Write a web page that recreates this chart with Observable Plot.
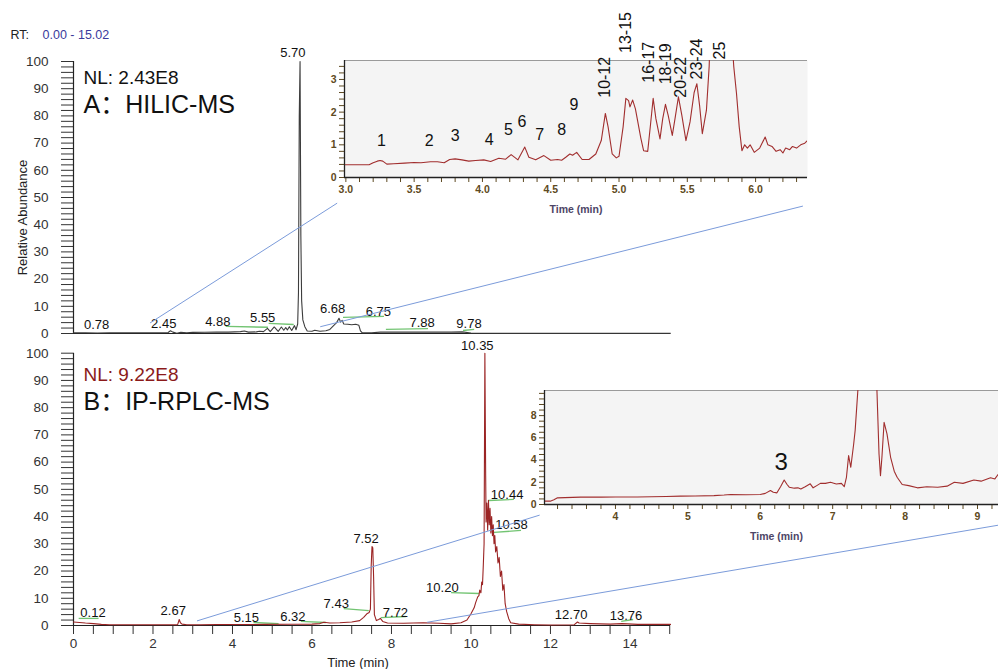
<!DOCTYPE html>
<html>
<head>
<meta charset="utf-8">
<script src="https://cdn.jsdelivr.net/npm/d3@7"></script>
<script src="https://cdn.jsdelivr.net/npm/@observablehq/plot@0.6"></script>
<style>
  html, body { margin: 0; padding: 0; background: #fff; }
  #chart { position: relative; width: 998px; height: 669px; overflow: hidden; background: #fff; }
  #chart svg { position: absolute; }
</style>
</head>
<body>
<div id="chart"></div>
<script>
// ---------- DATA ----------
const rtRange = [0.00, 15.02];
const nlA = "2.43E8";
const nlB = "9.22E8";
const titleA = "A：HILIC-MS";
const titleB = "B：IP-RPLC-MS";

// Panel A main chromatogram [time (min), relative abundance %]
const traceA = [
  [0,0.3],[0.3,0.3],[0.6,0.2],[0.9,0.3],[1.2,0.3],[1.5,0.25],[1.8,0.3],[2.1,0.3],[2.38,0.35],[2.44,1.0],
  [2.5,0.5],[2.6,0.1],[2.7,0.4],[2.85,0.3],[3.0,0.4],[3.3,0.45],[3.6,0.5],[3.9,0.5],[4.2,0.7],[4.3,0.9],
  [4.4,0.5],[4.6,0.6],[4.68,0.8],[4.78,0.7],[4.88,1.9],[4.95,0.7],[5.05,2.4],[5.15,0.8],[5.23,2.4],[5.29,1.2],
  [5.34,2.2],[5.38,1.3],[5.43,2.5],[5.49,1.1],[5.56,2.9],[5.6,1.4],[5.64,3.5],[5.66,15],[5.68,80],[5.70,100],
  [5.72,36],[5.74,12],[5.77,5],[5.82,2.5],[5.88,0.9],[6.0,0.8],[6.07,1.2],[6.2,0.8],[6.35,1.0],[6.45,1.5],
  [6.55,3.0],[6.62,4.0],[6.68,5.6],[6.72,4.2],[6.76,4.8],[6.8,3.5],[6.9,3.4],[7.0,3.2],[7.1,3.4],[7.18,3.0],
  [7.22,1.0],[7.26,0.3],[7.5,0.3],[7.72,0.5],[8.0,0.5],[8.5,0.5],[9.0,0.5],[9.5,0.5],[9.78,0.6],[10.0,0.2],
  [11,0.1],[12,0.1],[13,0.1],[14,0.1],[15.02,0.1]
];

// Panel B main chromatogram
const traceB = [
  [0,1.3],[0.15,1.1],[0.3,0.9],[0.5,0.7],[0.7,0.4],[0.9,0.3],[1.2,0.3],[1.6,0.25],[2.0,0.3],[2.4,0.3],
  [2.62,0.3],[2.66,2.2],[2.69,1.0],[2.73,0.5],[2.85,0.25],[3.2,0.3],[3.6,0.35],[4.2,0.35],[4.8,0.4],[5.4,0.45],
  [6.0,0.5],[6.2,0.7],[6.3,1.2],[6.45,0.9],[6.7,1.0],[7.0,1.3],[7.2,1.8],[7.3,3.0],[7.38,4.3],[7.44,4.8],
  [7.47,6],[7.49,22],[7.51,29],[7.53,28.5],[7.55,18],[7.57,4],[7.62,1.8],[7.68,2.2],[7.72,2.6],[7.78,1.5],
  [7.9,0.9],[8.3,0.8],[8.8,1.0],[9.2,0.8],[9.5,0.6],[9.75,1.0],[9.9,2.0],[10.0,4.3],[10.08,6.5],[10.12,8.5],
  [10.17,10.5],[10.2,11],[10.22,13],[10.25,12],[10.27,16],[10.29,15],[10.31,22],[10.33,30],[10.35,100],[10.37,55],
  [10.38,38],[10.40,45],[10.42,35],[10.44,46],[10.46,37],[10.48,43],[10.50,34],[10.52,40],[10.54,33],[10.56,37],
  [10.58,30],[10.60,33],[10.62,27],[10.65,29],[10.68,23],[10.71,25],[10.74,18],[10.77,20],[10.80,13],[10.83,15],
  [10.86,8],[10.9,5],[10.95,2.5],[11.0,1.0],[11.2,0.5],[11.6,0.3],[12.0,0.2],[12.6,0.3],[12.68,1.3],[12.72,0.9],
  [13.0,0.7],[13.5,0.5],[13.8,0.7],[14.2,0.4],[15.02,0.4]
];

// Inset A (zoom of HILIC trace, 3.0-6.4 min)
const insetTraceA = [
  [2.99,0.39],[3.1,0.39],[3.17,0.39],[3.2,0.45],[3.23,0.5],[3.25,0.52],[3.27,0.5],[3.3,0.41],[3.35,0.42],[3.43,0.44],
  [3.5,0.46],[3.55,0.45],[3.62,0.48],[3.67,0.48],[3.72,0.45],[3.76,0.55],[3.8,0.57],[3.85,0.54],[3.9,0.5],[3.95,0.52],
  [4.01,0.54],[4.06,0.49],[4.12,0.59],[4.17,0.56],[4.21,0.7],[4.26,0.54],[4.31,0.93],[4.34,0.62],[4.39,0.54],[4.45,0.67],
  [4.5,0.53],[4.55,0.55],[4.58,0.53],[4.61,0.62],[4.64,0.72],[4.66,0.68],[4.69,0.77],[4.73,0.55],[4.78,0.55],[4.83,0.72],
  [4.87,1.13],[4.9,1.96],[4.92,1.55],[4.95,0.72],[4.98,0.6],[5.0,0.65],[5.03,1.55],[5.05,2.42],[5.07,2.35],[5.08,2.16],
  [5.1,2.37],[5.12,2.1],[5.16,1.2],[5.18,0.82],[5.21,0.8],[5.23,1.6],[5.25,2.42],[5.27,1.8],[5.30,1.18],[5.32,1.8],
  [5.34,2.24],[5.36,1.9],[5.39,1.29],[5.41,1.8],[5.435,2.47],[5.46,1.9],[5.49,1.13],[5.52,1.7],[5.55,2.6],[5.57,2.87],
  [5.59,2.2],[5.61,1.34],[5.64,2.06],[5.66,3.4],[5.68,6],[5.70,100],[5.80,6],[5.84,3.4],[5.86,2.58],[5.88,1.55],
  [5.9,0.82],[5.92,1.0],[5.94,0.9],[5.96,1.0],[5.99,0.77],[6.03,0.9],[6.07,1.24],[6.09,1.0],[6.12,0.95],[6.15,0.8],
  [6.18,0.85],[6.2,0.75],[6.22,0.9],[6.25,0.85],[6.27,0.95],[6.3,0.9],[6.33,1.0],[6.36,1.05],[6.38,1.13]
];

// Inset B (zoom of IP-RPLC trace, 3.0-9.3 min)
const insetTraceB = [
  [3.02,0.3],[3.1,0.3],[3.15,0.42],[3.2,0.6],[3.3,0.62],[3.52,0.66],[3.8,0.66],[4.0,0.68],[4.3,0.67],[4.5,0.7],
  [4.7,0.72],[4.9,0.75],[5.1,0.76],[5.36,0.8],[5.5,0.85],[5.59,0.9],[5.8,0.88],[6.0,0.9],[6.07,1.0],[6.14,1.26],
  [6.18,1.1],[6.23,1.05],[6.28,1.6],[6.33,2.2],[6.37,1.8],[6.4,1.56],[6.47,1.47],[6.52,1.5],[6.56,1.4],[6.62,1.6],
  [6.69,1.86],[6.73,1.5],[6.78,1.7],[6.83,1.9],[6.9,1.9],[6.97,2.0],[7.05,1.85],[7.12,1.9],[7.16,1.6],[7.19,2.45],
  [7.22,4.4],[7.25,3.35],[7.29,5.45],[7.31,6.65],[7.35,10.5],[7.40,14],[7.5,29],[7.58,14],[7.61,10.5],[7.64,4.55],
  [7.66,2.6],[7.68,4.25],[7.71,7.4],[7.75,6.35],[7.8,4.25],[7.85,3.0],[7.89,2.45],[7.96,1.8],[8.05,1.7],[8.17,1.5],
  [8.3,1.6],[8.45,1.55],[8.58,1.65],[8.68,2.0],[8.8,1.9],[8.95,2.2],[9.05,2.1],[9.18,2.4],[9.24,2.3],[9.29,2.75]
];

// Peak retention-time labels: [text, label time, label abundance]
const peakLabelsA = [
  ["0.78",0.58,3.3],["2.45",2.27,3.7],["4.88",3.63,4.4],["5.55",4.76,5.9],["5.70",5.52,103.3],
  ["6.68",6.52,9.2],["6.75",7.67,8.1],["7.88",8.77,4.0],["9.78",9.95,3.5]
];
const peakLabelsB = [
  ["0.12",0.49,4.6],["2.67",2.51,5.3],["5.15",4.35,2.75],["6.32",5.52,3.1],["7.43",6.61,7.9],
  ["7.52",7.36,32],["7.72",8.1,4.8],["10.20",9.28,13.8],["10.35",10.16,102.8],["10.44",10.91,47.9],
  ["10.58",11.02,36.9],["12.70",12.52,3.9],["13.76",13.90,3.5]
];
// Green label leaders: [t1, v1, t2, v2]
const leadersA = [[3.83,2.6,4.89,2.3],[4.91,3.7,5.54,3.3],[6.78,5.9,7.81,6.3],[7.86,1.5,8.92,1.8],[9.80,1.1,10.08,1.5]];
const leadersB = [[0.13,2.6,0.63,2.6],[4.53,1.1,5.16,0.7],[5.72,1.5,6.35,1.1],[6.8,6.2,7.43,5.5],[7.73,2.9,8.36,3.3],
  [9.5,12.1,10.2,11.75],[10.45,45.9,11.08,46.3],[10.58,34.2,11.26,34.9],[13.78,1.5,14.08,2.2]];

// Inset peak numbering
const insetNumbersA = [["1",3.26,1.12],["2",3.61,1.12],["3",3.80,1.27],["4",4.05,1.15],["5",4.19,1.45],
  ["6",4.29,1.70],["7",4.42,1.30],["8",4.58,1.45],["9",4.67,2.22]];
const insetGroupsA = [["10-12",4.90,2.44],["13-15",5.05,3.81],["16-17",5.22,2.90],["18-19",5.34,2.85],
  ["20-22",5.45,2.44],["23-24",5.57,3.0],["25",5.74,3.61]];
const insetNumbersB = [["3",6.29,3.8]];

// Zoom connectors: [main time, main abundance, inset time, inset abundance]
const connectorsA = [[1.94,3.7,2.94,-0.8],[6.22,2.3,6.35,-0.89]];
const connectorsB = [[3.12,1.5,2.96,-1.0],[8.91,1.0,9.30,-1.9]];

// ---------- CHART ----------
const font = "'Liberation Sans', 'Noto Sans CJK SC', Arial, sans-serif";
const range = (a, b, step) => d3.range(Math.round(a / step), Math.round(b / step) + 1).map(k => +(k * step).toFixed(4));
const near = (v, step) => Math.abs(v / step - Math.round(v / step)) < 1e-6;
const container = document.getElementById("chart");
function place(el, left, top) {
  el.style.position = "absolute"; el.style.left = left + "px"; el.style.top = top + "px";
  el.style.background = "transparent"; el.style.overflow = "visible"; el.style.maxWidth = "none";
  container.appendChild(el); return el;
}
const label = (txt, opts) => Plot.text([txt], {text: d => d, textAnchor: "middle", lineAnchor: "middle", ...opts});

const posA = {left: 0, top: 0}, posB = {left: 0, top: 340};
const posIA = {left: 300, top: 0}, posIB = {left: 500, top: 370};

function mainPanel(trace, labels, leaders, lineColor, nl, nlColor, title, isB) {
  const marks = [
    Plot.ruleX([0], {y1: 0, y2: 100, stroke: "#222", strokeWidth: 1.2}),
    Plot.ruleY([0], {stroke: "#222", strokeWidth: 1.2}),
    Plot.link(leaders, {x1: d => d[0], y1: d => d[1], x2: d => d[2], y2: d => d[3], stroke: "#72c472", strokeWidth: 1.3}),
    Plot.line(trace, {x: d => d[0], y: d => d[1], stroke: lineColor, strokeWidth: 1.1}),
    Plot.text(labels, {x: d => d[1], y: d => d[2], text: d => d[0], fontSize: 13, fill: "#111"}),
    label(`NL: ${nl}`, {frameAnchor: "top-left", textAnchor: "start", dx: 10, dy: isB ? 22 : 16, fontSize: 19, fill: nlColor}),
    label(title, {frameAnchor: "top-left", textAnchor: "start", dx: 10, dy: isB ? 49 : 43, fontSize: 25, fill: "#111"})
  ];
  if (isB) {
    marks.push(label("Time (min)", {frameAnchor: "bottom", dx: -14, dy: 37, fontSize: 13, fill: "#222"}));
  } else {
    marks.push(
      label("Relative Abundance", {x: rtRange[0], y: 50, rotate: -90, dx: -51, dy: 20, fontSize: 13, fill: "#222"}),
      label("RT:", {frameAnchor: "top-left", textAnchor: "start", dx: -63, dy: -27, fontSize: 12.5, fill: "#222"}),
      label(`${rtRange[0].toFixed(2)} - ${rtRange[1].toFixed(2)}`, {frameAnchor: "top-left", textAnchor: "start", dx: -31, dy: -27, fontSize: 12.5, fill: "#3a3a9c"})
    );
  }
  return Plot.plot({
    width: 998, height: isB ? 329 : 340,
    marginLeft: 73, marginRight: 328,
    marginTop: isB ? 12.7 : 61, marginBottom: isB ? 44 : 7,
    style: {fontFamily: font, fontSize: "13.5px", color: "#333", background: "transparent", overflow: "visible"},
    x: isB
      ? {domain: rtRange, ticks: range(0, 15, 0.5), tickSize: 9, tickPadding: 4, tickFormat: d => near(d, 2) ? String(d) : "", label: null}
      : {domain: rtRange, axis: null},
    y: {domain: [0, 100], ticks: range(0, 100, 2), tickSize: 12, tickPadding: 13, tickFormat: d => near(d, 10) ? String(d) : "", label: null},
    marks
  });
}

const mainA = place(mainPanel(traceA, peakLabelsA, leadersA, "#3d3d3d", nlA, "#111", titleA, false), posA.left, posA.top);
const mainB = place(mainPanel(traceB, peakLabelsB, leadersB, "#9b2424", nlB, "#8b1a1a", titleB, true), posB.left, posB.top);

// Connector overlay
const overlay = d3.create("svg").attr("width", 998).attr("height", 669).style("left", "0px").style("top", "0px").style("pointer-events", "none");
container.appendChild(overlay.node());

function insetPanel(trace, opts) {
  const marks = [
    Plot.frame({fill: "#f4f4f4", stroke: "none"}),
    Plot.ruleY([opts.y[1]], {stroke: "#9a9a9a", strokeWidth: 1.2}),
    Plot.line(trace, {x: d => d[0], y: d => d[1], stroke: "#a12e2e", strokeWidth: 1.1, clip: true}),
    Plot.ruleX([opts.x[0]], {stroke: "#222", strokeWidth: 1.3}),
    Plot.ruleY([0], {stroke: "#222", strokeWidth: 1.3}),
    label("Time (min)", {frameAnchor: "bottom", dx: opts.titleDx, dy: 32, fontSize: 10.5, fontWeight: "bold", fill: "#4d4566"})
  ];
  return Plot.plot({
    width: opts.width, height: opts.height,
    marginLeft: opts.ml, marginRight: 0, marginTop: opts.mt, marginBottom: opts.mb,
    style: {fontFamily: font, fontSize: "10.5px", fontWeight: "bold", color: "#5e4a22", background: "transparent", overflow: "visible"},
    x: {domain: opts.x, ticks: opts.xTicks, tickSize: 5, tickPadding: 3, tickFormat: opts.xFmt, label: null},
    y: {domain: opts.y, ticks: opts.yTicks, tickSize: 5, tickPadding: 3, tickFormat: opts.yFmt, label: null},
    marks: marks.concat(opts.extra)
  });
}

const insetA = place(insetPanel(insetTraceA, {
  width: 507, height: 220, ml: 44, mt: 60, mb: 43,
  x: [2.99, 6.38], y: [0, 3.58],
  yTicks: range(0, 3.4, 0.2), yFmt: d => near(d, 1) ? String(d) : "",
  xTicks: range(3.0, 6.3, 0.1), xFmt: d => near(d, 0.5) ? d3.format(".1f")(d) : "", titleDx: 0,
  extra: [
    Plot.text(insetNumbersA, {x: d => d[1], y: d => d[2], text: d => d[0], fontSize: 16, fontWeight: "normal", fill: "#111"}),
    Plot.text(insetGroupsA, {x: d => d[1], y: d => d[2], text: d => d[0], rotate: -90, textAnchor: "start", fontSize: 16, fontWeight: "normal", fill: "#111"})
  ]
}), posIA.left, posIA.top);

const insetB = place(insetPanel(insetTraceB, {
  width: 498, height: 175, ml: 44, mt: 20, mb: 41,
  x: [3.02, 9.29], y: [0, 10.26],
  yTicks: range(0, 10, 0.5), yFmt: d => near(d, 2) && d < 10 ? String(d) : "",
  xTicks: range(3.2, 9.2, 0.2), xFmt: d => near(d, 1) ? String(Math.round(d)) : "", titleDx: 5,
  extra: [
    Plot.text(insetNumbersB, {x: d => d[1], y: d => d[2], text: d => d[0], fontSize: 24, fontWeight: "normal", fill: "#111"})
  ]
}), posIB.left, posIB.top);

function drawConnectors(conns, main, mainPos, inset, insetPos) {
  const mx = main.scale("x"), my = main.scale("y"), ix = inset.scale("x"), iy = inset.scale("y");
  for (const [t1, v1, t2, v2] of conns) {
    overlay.append("line")
      .attr("x1", mx.apply(t1) + mainPos.left).attr("y1", my.apply(v1) + mainPos.top)
      .attr("x2", ix.apply(t2) + insetPos.left).attr("y2", iy.apply(v2) + insetPos.top)
      .attr("stroke", "#7b9bda").attr("stroke-width", 1);
  }
}
drawConnectors(connectorsA, mainA, posA, insetA, posIA);
drawConnectors(connectorsB, mainB, posB, insetB, posIB);
</script>
</body>
</html>
